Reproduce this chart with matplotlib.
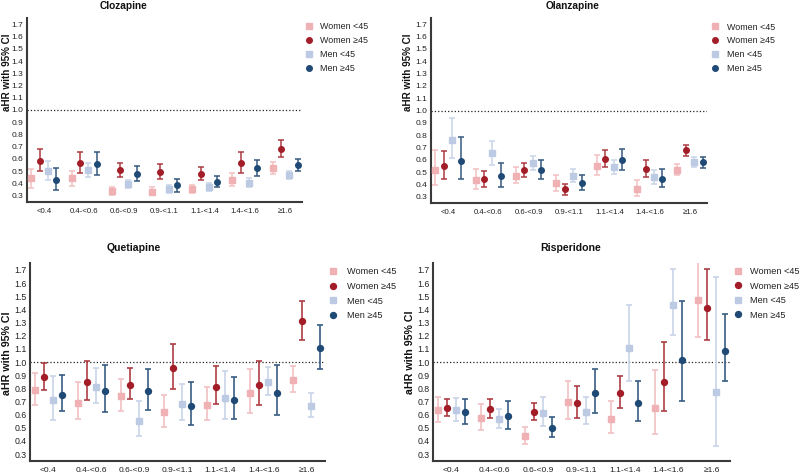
import matplotlib
matplotlib.use("Agg")
import matplotlib.pyplot as plt
from matplotlib.lines import Line2D
import numpy as np

plt.rcParams['font.family'] = ['Liberation Sans', 'DejaVu Sans']

categories = ["<0.4", "0.4-<0.6", "0.6-<0.9", "0.9-<1.1", "1.1-<1.4", "1.4-<1.6", "\u22651.6"]
series_labels = ["Women <45", "Women \u226545", "Men <45", "Men \u226545"]
y_ticks = [0.3, 0.4, 0.5, 0.6, 0.7, 0.8, 0.9, 1.0, 1.1, 1.2, 1.3, 1.4, 1.5, 1.6, 1.7]

# ---- Clozapine ----
cloz_wy_est = [0.44, 0.44, 0.335, 0.33, 0.35, 0.43, 0.528]
cloz_wy_lo = [0.364, 0.38, 0.304, 0.30, 0.318, 0.38, 0.479]
cloz_wy_hi = [0.517, 0.50, 0.372, 0.367, 0.386, 0.484, 0.577]
cloz_wo_est = [0.585, 0.569, 0.506, 0.492, 0.479, 0.566, 0.683]
cloz_wo_lo = [0.498, 0.487, 0.451, 0.433, 0.427, 0.487, 0.613]
cloz_wo_hi = [0.683, 0.659, 0.564, 0.555, 0.533, 0.654, 0.757]
cloz_my_est = [0.498, 0.511, 0.397, 0.35, 0.372, 0.405, 0.468]
cloz_my_lo = [0.424, 0.454, 0.364, 0.318, 0.339, 0.37, 0.438]
cloz_my_hi = [0.58, 0.569, 0.43, 0.386, 0.402, 0.446, 0.503]
cloz_mo_est = [0.427, 0.555, 0.476, 0.383, 0.411, 0.523, 0.547]
cloz_mo_lo = [0.345, 0.468, 0.419, 0.331, 0.367, 0.462, 0.498]
cloz_mo_hi = [0.523, 0.659, 0.539, 0.433, 0.457, 0.593, 0.601]

# ---- Olanzapine ----
olan_wy_est = [0.517, 0.438, 0.471, 0.409, 0.549, 0.365, 0.519]
olan_wy_lo = [0.393, 0.363, 0.411, 0.349, 0.476, 0.306, 0.479]
olan_wy_hi = [0.677, 0.527, 0.544, 0.474, 0.641, 0.436, 0.566]
olan_wo_est = [0.549, 0.444, 0.517, 0.36, 0.609, 0.527, 0.679]
olan_wo_lo = [0.446, 0.381, 0.462, 0.314, 0.539, 0.457, 0.631]
olan_wo_hi = [0.674, 0.511, 0.576, 0.40, 0.679, 0.598, 0.722]
olan_my_est = [0.761, 0.652, 0.574, 0.468, 0.539, 0.46, 0.584]
olan_my_lo = [0.612, 0.56, 0.514, 0.417, 0.482, 0.406, 0.544]
olan_my_hi = [0.937, 0.755, 0.633, 0.525, 0.601, 0.517, 0.62]
olan_mo_est = [0.587, 0.471, 0.517, 0.414, 0.598, 0.446, 0.579]
olan_mo_lo = [0.441, 0.381, 0.441, 0.354, 0.517, 0.379, 0.533]
olan_mo_hi = [0.783, 0.576, 0.595, 0.476, 0.69, 0.525, 0.625]

# ---- Quetiapine ----
quet_wy_est = [0.787, 0.69, 0.739, 0.617, 0.673, 0.762, 0.866]
quet_wy_lo = [0.675, 0.566, 0.625, 0.505, 0.561, 0.612, 0.772]
quet_wy_hi = [0.914, 0.845, 0.873, 0.751, 0.812, 0.944, 0.967]
quet_wo_est = [0.886, 0.845, 0.828, 0.952, 0.812, 0.825, 1.309]
quet_wo_lo = [0.787, 0.711, 0.716, 0.797, 0.68, 0.675, 1.17]
quet_wo_hi = [0.995, 1.005, 0.954, 1.134, 0.967, 1.005, 1.464]
quet_my_est = [0.708, 0.81, 0.554, 0.683, 0.724, 0.85, 0.668]
quet_my_lo = [0.561, 0.685, 0.44, 0.559, 0.564, 0.746, 0.581]
quet_my_hi = [0.891, 0.957, 0.706, 0.835, 0.929, 0.959, 0.767]
quet_mo_est = [0.751, 0.779, 0.779, 0.665, 0.711, 0.764, 1.104]
quet_mo_lo = [0.63, 0.62, 0.637, 0.523, 0.566, 0.597, 0.949]
quet_mo_hi = [0.899, 0.975, 0.949, 0.845, 0.886, 0.975, 1.284]

# ---- Risperidone ----
risp_wy_est = [0.632, 0.571, 0.437, 0.696, 0.569, 0.65, 1.469]
risp_wy_lo = [0.544, 0.48, 0.374, 0.564, 0.46, 0.45, 1.19]
risp_wy_hi = [0.731, 0.678, 0.503, 0.855, 0.70, 0.937, 1.80]
risp_wo_est = [0.653, 0.645, 0.62, 0.686, 0.767, 0.848, 1.411]
risp_wo_lo = [0.589, 0.574, 0.556, 0.576, 0.653, 0.625, 1.17]
risp_wo_hi = [0.718, 0.718, 0.688, 0.815, 0.893, 1.15, 1.705]
risp_my_est = [0.632, 0.569, 0.614, 0.62, 1.109, 1.431, 0.774]
risp_my_lo = [0.549, 0.50, 0.513, 0.526, 0.855, 1.205, 0.363]
risp_my_hi = [0.726, 0.645, 0.736, 0.731, 1.436, 1.705, 1.647]
risp_mo_est = [0.617, 0.589, 0.495, 0.764, 0.686, 1.015, 1.081]
risp_mo_lo = [0.528, 0.493, 0.427, 0.612, 0.551, 0.703, 0.855]
risp_mo_hi = [0.718, 0.70, 0.579, 0.949, 0.853, 1.462, 1.363]

W = 800
H = 476
fig = plt.figure(figsize=(8, 4.76), dpi=100)


def px_rect(l, t, r, b):
    return [l / W, 1 - b / H, (r - l) / W, (b - t) / H]


marker_colors = ['#efb1b4', '#a21d27', '#bccbe3', '#1f4a75']
bar_colors = ['#f2c0c2', '#ac3a42', '#c7d4e8', '#35597f']
markers = ['s', 'o', 's', 'o']
offsets = [-0.312, -0.104, 0.104, 0.312]

panels = [
    dict(name="Clozapine", rect=px_rect(27, 18.4, 302, 201.6),
         title=(123, 6), ylab=(7.5, 72), leg=(308.5, 320.5, 22),
         yfs_tick=6.0, xfs=5.6, lfs=6.4, tfs=7.3, yfs=7.1, scale=1.0, lsp=0.55,
         data=[(cloz_wy_est, cloz_wy_lo, cloz_wy_hi), (cloz_wo_est, cloz_wo_lo, cloz_wo_hi),
               (cloz_my_est, cloz_my_lo, cloz_my_hi), (cloz_mo_est, cloz_mo_lo, cloz_mo_hi)]),
    dict(name="Olanzapine", rect=px_rect(431, 18.2, 707, 202.9),
         title=(572.5, 6), ylab=(408, 72), leg=(715, 726.7, 22.5),
         yfs_tick=6.0, xfs=5.6, lfs=6.4, tfs=7.3, yfs=7.1, scale=1.0, lsp=0.55,
         data=[(olan_wy_est, olan_wy_lo, olan_wy_hi), (olan_wo_est, olan_wo_lo, olan_wo_hi),
               (olan_my_est, olan_my_lo, olan_my_hi), (olan_mo_est, olan_mo_lo, olan_mo_hi)]),
    dict(name="Quetiapine", rect=px_rect(30, 263.4, 325, 460.6),
         title=(133.7, 247.7), ylab=(7.5, 353), leg=(333.3, 346.7, 267.5),
         yfs_tick=6.3, xfs=6.1, lfs=6.6, tfs=7.6, yfs=7.7, scale=1.07, lsp=0.6,
         data=[(quet_wy_est, quet_wy_lo, quet_wy_hi), (quet_wo_est, quet_wo_lo, quet_wo_hi),
               (quet_my_est, quet_my_lo, quet_my_hi), (quet_mo_est, quet_mo_lo, quet_mo_hi)]),
    dict(name="Risperidone", rect=px_rect(433, 263.4, 730, 460.6),
         title=(570.5, 248), ylab=(410, 352), leg=(737.7, 750, 267.2),
         yfs_tick=6.3, xfs=6.1, lfs=6.6, tfs=7.6, yfs=7.7, scale=1.07, lsp=0.6,
         data=[(risp_wy_est, risp_wy_lo, risp_wy_hi), (risp_wo_est, risp_wo_lo, risp_wo_hi),
               (risp_my_est, risp_my_lo, risp_my_hi), (risp_mo_est, risp_mo_lo, risp_mo_hi)]),
]

x = np.arange(len(categories))

for p in panels:
    ax = fig.add_axes(p['rect'])
    s = p['scale']
    for i, (est, lo, hi) in enumerate(p['data']):
        est = np.array(est)
        lo = np.array(lo)
        hi = np.array(hi)
        ax.errorbar(x + offsets[i], est, yerr=[est - lo, hi - est], fmt='none',
                    ecolor=bar_colors[i], elinewidth=1.1 * s, capsize=2.0 * s,
                    capthick=1.1 * s, zorder=2)
        ax.plot(x + offsets[i], est, linestyle='none', marker=markers[i],
                color=marker_colors[i], markersize=4.0 * s, zorder=3)
    ax.axhline(1.0, color='#222222', linestyle=':', linewidth=0.9, zorder=1)
    ax.set_xlim(-0.42, 6.42)
    ax.set_ylim(0.25, 1.75)
    ax.set_yticks(y_ticks)
    ax.set_yticklabels([f"{v:.1f}" for v in y_ticks])
    ax.set_xticks(x)
    ax.set_xticklabels(categories)
    ax.tick_params(axis='y', length=0, pad=2.5, labelsize=p['yfs_tick'], labelcolor='#222222')
    ax.tick_params(axis='x', length=0, pad=4.5, labelsize=p['xfs'], labelcolor='#222222')
    for side in ['top', 'right']:
        ax.spines[side].set_visible(False)
    for side in ['left', 'bottom']:
        ax.spines[side].set_color('#3a3a3a')
        ax.spines[side].set_linewidth(1.5)
    ax.set_facecolor('none')

    tx, ty = p['title']
    fig.text(tx / W, 1 - ty / H, p['name'], ha='center', va='center',
             fontsize=p['tfs'], fontweight='bold', color='#111111')
    lx, ly = p['ylab']
    fig.text(lx / W, 1 - ly / H, "aHR with 95% CI", ha='center', va='center',
             rotation=90, fontsize=p['yfs'], fontweight='bold', color='#111111')

    handles = [Line2D([], [], linestyle='none', marker=markers[i], color=marker_colors[i],
                      markersize=4.0 * s) for i in range(4)]
    mx, txx, top = p['leg']
    fs_px = p['lfs'] * 100 / 72
    L = 1.0
    anchor_x = mx - L * fs_px / 2
    pad = (txx - anchor_x) / fs_px - L
    ax.legend(handles, series_labels, loc='upper left',
              bbox_to_anchor=(anchor_x / W, 1 - top / H), bbox_transform=fig.transFigure,
              frameon=False, borderpad=0, borderaxespad=0, handlelength=L,
              handletextpad=pad, labelspacing=p['lsp'], fontsize=p['lfs'],
              labelcolor='#222222')

fig.savefig("out.png", dpi=100, facecolor='white')
